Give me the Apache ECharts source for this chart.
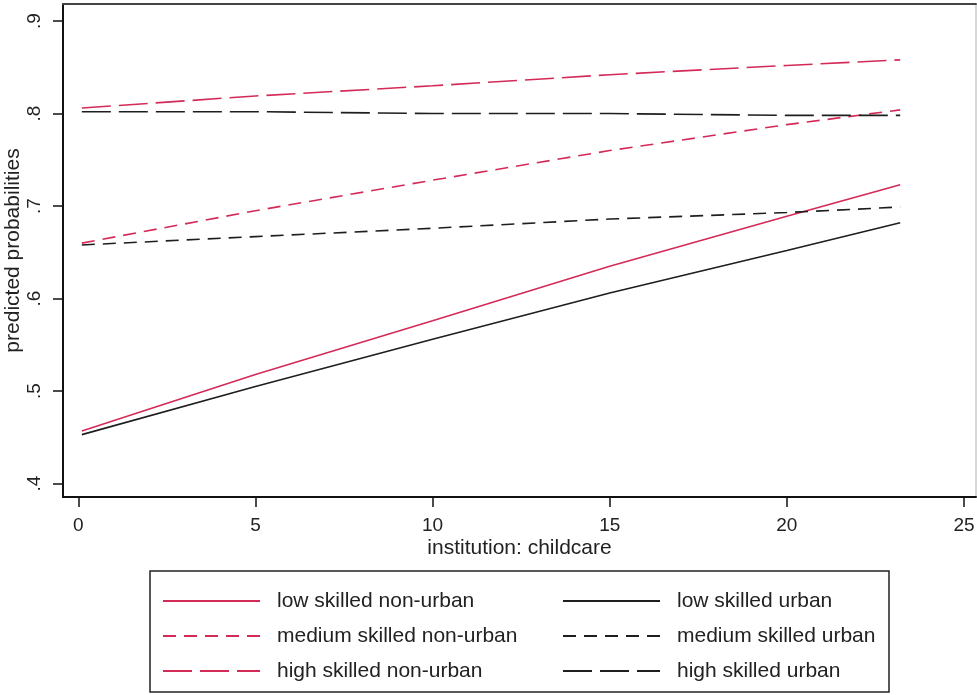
<!DOCTYPE html>
<html><head><meta charset="utf-8">
<script src="https://cdn.jsdelivr.net/npm/echarts@6/dist/echarts.min.js"></script>
<style>html,body{margin:0;padding:0;background:#fff}#c{width:977px;height:695px}</style>
</head><body><div id="c"></div>
<script>
const xValues      = [0.1, 5, 10, 15, 20, 23.2];
const lowNonUrban  = [0.457, 0.518, 0.576, 0.635, 0.689, 0.723];
const lowUrban     = [0.453, 0.505, 0.556, 0.606, 0.652, 0.682];
const medNonUrban  = [0.660, 0.695, 0.728, 0.760, 0.788, 0.804];
const medUrban     = [0.658, 0.667, 0.676, 0.686, 0.693, 0.699];
const highNonUrban = [0.806, 0.819, 0.830, 0.842, 0.852, 0.858];
const highUrban    = [0.802, 0.802, 0.800, 0.800, 0.798, 0.798];
const seriesNames  = ['low skilled non-urban','low skilled urban','medium skilled non-urban','medium skilled urban','high skilled non-urban','high skilled urban'];
const xTicks = [0, 5, 10, 15, 20, 25];
const yTicks = [0.4, 0.5, 0.6, 0.7, 0.8, 0.9];
const yTickLabels = ['.4', '.5', '.6', '.7', '.8', '.9'];

const RED = '#d42a57', BLK = '#1e1e1e';
const FONT = "'Liberation Sans', Arial, sans-serif";
const SHORT = [13, 8], LONG = [29, 8];
const allValues = [lowNonUrban, lowUrban, medNonUrban, medUrban, highNonUrban, highUrban];
const colors = [RED, BLK, RED, BLK, RED, BLK];
const dashes = ['solid', 'solid', SHORT, SHORT, LONG, LONG];

const series = allValues.map((vals, i) => ({
  name: seriesNames[i],
  type: 'line',
  symbol: 'none',
  smooth: false,
  data: xValues.map((x, j) => [x, vals[j]]),
  lineStyle: { color: colors[i], width: 1.6, type: dashes[i] },
  itemStyle: { color: colors[i] },
  emphasis: { disabled: true },
  animation: false
}));

const legendData = seriesNames.map((n, i) => ({
  name: n,
  itemStyle: { opacity: 0 },
  textStyle: { width: i % 2 === 0 ? 274 : 200, padding: [0, 0, 0, 12] }
}));

const chart = echarts.init(document.getElementById('c'), null, { renderer: 'canvas' });
chart.setOption({
  backgroundColor: '#fff',
  animation: false,
  textStyle: { fontFamily: FONT },
  grid: { left: 63, right: 1, top: 4, bottom: 198, outerBoundsMode: 'none', containLabel: false,
          show: true, borderColor: '#b0b0b0', borderWidth: 1, backgroundColor: '#fff' },
  xAxis: [{
    type: 'value', min: -0.432, max: 25.34,
    name: 'institution: childcare', nameLocation: 'middle', nameGap: 41, nameMoveOverlap: false,
    nameTextStyle: { fontSize: 21, color: '#222', fontFamily: FONT },
    axisLine: { show: true, onZero: false, lineStyle: { color: '#111', width: 2 } },
    axisTick: { show: true, length: 10, lineStyle: { color: '#111', width: 1.5 }, customValues: xTicks },
    axisLabel: { fontSize: 19, color: '#222', margin: 19, fontFamily: FONT, customValues: xTicks },
    splitLine: { show: false }
  }, {
    type: 'value', position: 'top', min: -0.432, max: 25.34,
    axisLine: { show: true, onZero: false, lineStyle: { color: '#444', width: 2 } },
    axisTick: { show: false }, axisLabel: { show: false }, splitLine: { show: false }
  }],
  yAxis: {
    type: 'value', min: 0.3856, max: 0.9184,
    name: 'predicted probabilities', nameLocation: 'middle', nameGap: 39, nameRotate: 90, nameMoveOverlap: false,
    nameTextStyle: { fontSize: 21, color: '#222', fontFamily: FONT },
    axisLine: { show: true, onZero: false, lineStyle: { color: '#111', width: 2 } },
    axisTick: { show: true, length: 10, lineStyle: { color: '#111', width: 1.5 }, customValues: yTicks },
    axisLabel: {
      fontSize: 19, color: '#222', margin: 19, rotate: 90, fontFamily: FONT,
      customValues: yTicks,
      formatter: v => { const k = yTicks.findIndex(t => Math.abs(t - v) < 1e-6); return k >= 0 ? yTickLabels[k] : ''; }
    },
    splitLine: { show: false }
  },
  legend: {
    data: legendData,
    left: 150, top: 571, width: 740,
    orient: 'horizontal',
    padding: [18, 12, 9, 12],
    itemGap: 11,
    itemWidth: 97, itemHeight: 14,
    borderColor: '#222', borderWidth: 1.5,
    backgroundColor: '#fff',
    itemStyle: { opacity: 0 },
    selectedMode: false,
    textStyle: { fontSize: 21, color: '#222', lineHeight: 24, fontFamily: FONT }
  },
  series: series
});
</script></body></html>
